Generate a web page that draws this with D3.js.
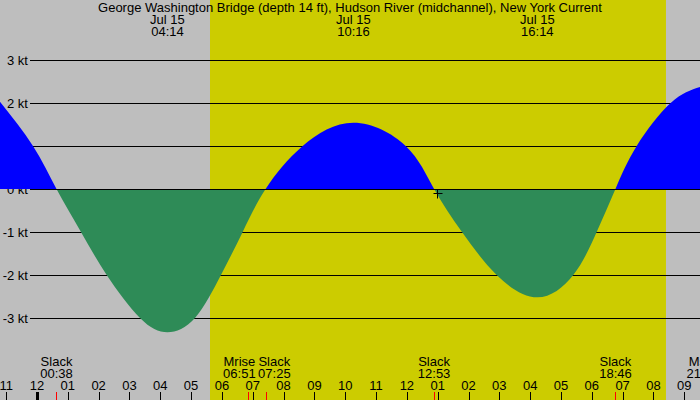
<!DOCTYPE html>
<html>
<head>
<meta charset="utf-8">
<script src="https://cdn.jsdelivr.net/npm/d3@7"></script>
<style>
body{margin:0;background:#bebebe;}
svg{display:block;}
text{font-family:"Liberation Sans",Arial,sans-serif;font-size:13px;fill:#000;}
</style>
</head>
<body>
<div id="chart"></div>
<script>

// DATOS (horas desde medianoche del 15 de julio)

const titulo = "George Washington Bridge (depth 14 ft), Hudson River (midchannel), New York Current";

const horas = [-1.2, -0.13, 0.633, 1.427, 2.261, 3.342, 4.233, 5.126, 5.969, 6.673, 7.417, 8.62, 10.267, 11.962, 12.883, 13.788, 14.914, 16.233, 17.399, 18.158, 18.767, 19.456, 20.559, 21.51];

const nudos = [2.03, 1, 0, -1, -2, -3, -3.33, -3, -2, -1, 0, 1, 1.54, 1, 0, -1, -2, -2.52, -2, -1, 0, 1, 2, 2.37];

const extremosHora = [4.233, 10.267, 16.233];
const extremosFecha = ["Jul 15", "Jul 15", "Jul 15"];
const extremosTexto = ["04:14", "10:16", "16:14"];

const eventosHora = [0.633, 6.85, 7.417, 12.883, 18.767, 21.6];
const eventosNombre = ["Slack", "Mrise", "Slack", "Slack", "Slack", "Mset"];
const eventosTexto = ["00:38", "06:51", "07:25", "12:53", "18:46", "21:36"];

const salidaSol = 5.613;
const puestaSol = 20.406;

const nivelesY = [3, 2, 1, 0, -1, -2, -3];

const marcaHora = 12.98;
const marcaNudos = -0.1;


const width = 700;
const height = 400;

const svg = d3.select("#chart")
  .append("svg")
  .attr("width", width)
  .attr("height", height);

const x = d3.scaleLinear()
  .domain([-1.2, 21.51])
  .range([0, width]);

const y = d3.scaleLinear()
  .domain([-3, 3])
  .range([318, 60]);


// FONDO Y DIA

svg.append("rect")
  .attr("width", width)
  .attr("height", height)
  .attr("fill", "#bebebe");

svg.append("rect")
  .attr("x", x(salidaSol))
  .attr("y", 0)
  .attr("width", x(puestaSol) - x(salidaSol))
  .attr("height", height)
  .attr("fill", "#cccc00");


// LINEAS HORIZONTALES

svg.selectAll(".nivel")
  .data(nivelesY.filter(d => d !== 0))
  .enter()
  .append("line")
  .attr("x1", 30)
  .attr("x2", width)
  .attr("y1", d => Math.round(y(d)) + 0.5)
  .attr("y2", d => Math.round(y(d)) + 0.5)
  .attr("stroke", "#000");

svg.selectAll(".nivelTexto")
  .data(nivelesY)
  .enter()
  .append("text")
  .attr("x", 28)
  .attr("y", d => y(d) + 5)
  .attr("text-anchor", "end")
  .text(d => d + " kt");


// CORRIENTE

const puntos = horas.map((h, i) => ({ h, v: nudos[i] }));

const area = d3.area()
  .x(d => x(d.h))
  .y0(y(0))
  .y1(d => y(d.v))
  .curve(d3.curveNatural);

const defs = svg.append("defs");

defs.append("clipPath")
  .attr("id", "arriba")
  .append("rect")
  .attr("x", 0).attr("y", 0)
  .attr("width", width).attr("height", y(0));

defs.append("clipPath")
  .attr("id", "abajo")
  .append("rect")
  .attr("x", 0).attr("y", y(0))
  .attr("width", width).attr("height", height - y(0));

svg.append("path")
  .datum(puntos)
  .attr("d", area)
  .attr("fill", "#0000ff")
  .attr("clip-path", "url(#arriba)");

svg.append("path")
  .datum(puntos)
  .attr("d", area)
  .attr("fill", "#2e8b57")
  .attr("clip-path", "url(#abajo)");

svg.append("line")
  .attr("x1", 30)
  .attr("x2", width)
  .attr("y1", Math.round(y(0)) + 0.5)
  .attr("y2", Math.round(y(0)) + 0.5)
  .attr("stroke", "#000");


// MARCA +

const mx = Math.round(x(marcaHora)) + 0.5;
const my = Math.round(y(marcaNudos)) + 0.5;

svg.append("line")
  .attr("x1", mx - 4).attr("x2", mx + 5)
  .attr("y1", my).attr("y2", my)
  .attr("stroke", "#000");

svg.append("line")
  .attr("x1", mx).attr("x2", mx)
  .attr("y1", my - 4).attr("y2", my + 5)
  .attr("stroke", "#000");


// TITULO Y EXTREMOS

svg.append("text")
  .attr("x", width / 2)
  .attr("y", 12)
  .attr("text-anchor", "middle")
  .text(titulo);

extremosHora.forEach((h, i) => {
  svg.append("text")
    .attr("x", x(h))
    .attr("y", 24)
    .attr("text-anchor", "middle")
    .text(extremosFecha[i]);
  svg.append("text")
    .attr("x", x(h))
    .attr("y", 36)
    .attr("text-anchor", "middle")
    .text(extremosTexto[i]);
});


// EJE DE HORAS

const horasEje = d3.range(-1, 22);

svg.selectAll(".hora")
  .data(horasEje)
  .enter()
  .append("text")
  .attr("x", d => x(d))
  .attr("y", 390)
  .attr("text-anchor", "middle")
  .text(d => {
    let h = ((d % 12) + 12) % 12;
    if (h === 0) h = 12;
    return String(h).padStart(2, "0");
  });

svg.selectAll(".tick")
  .data(horasEje)
  .enter()
  .append("rect")
  .attr("x", d => Math.round(x(d)) - (d === 0 ? 1 : 0))
  .attr("y", 392)
  .attr("width", d => d === 0 ? 3 : 1)
  .attr("height", 8)
  .attr("fill", "#000");

svg.selectAll(".tickEvento")
  .data(eventosHora)
  .enter()
  .append("rect")
  .attr("x", d => Math.round(x(d)))
  .attr("y", 392)
  .attr("width", 1)
  .attr("height", 8)
  .attr("fill", "#ff0000");


// EVENTOS (separar etiquetas que se tocan)

const centros = eventosHora.map(h => x(h));
const separacion = 35;
for (let i = 1; i < centros.length; i++) {
  const falta = separacion - (centros[i] - centros[i - 1]);
  if (falta > 0) {
    centros[i - 1] -= falta / 2;
    centros[i] += falta / 2;
  }
}

eventosNombre.forEach((n, i) => {
  svg.append("text")
    .attr("x", centros[i])
    .attr("y", 366)
    .attr("text-anchor", "middle")
    .text(n);
  svg.append("text")
    .attr("x", centros[i])
    .attr("y", 378)
    .attr("text-anchor", "middle")
    .text(eventosTexto[i]);
});

</script>
</body>
</html>
